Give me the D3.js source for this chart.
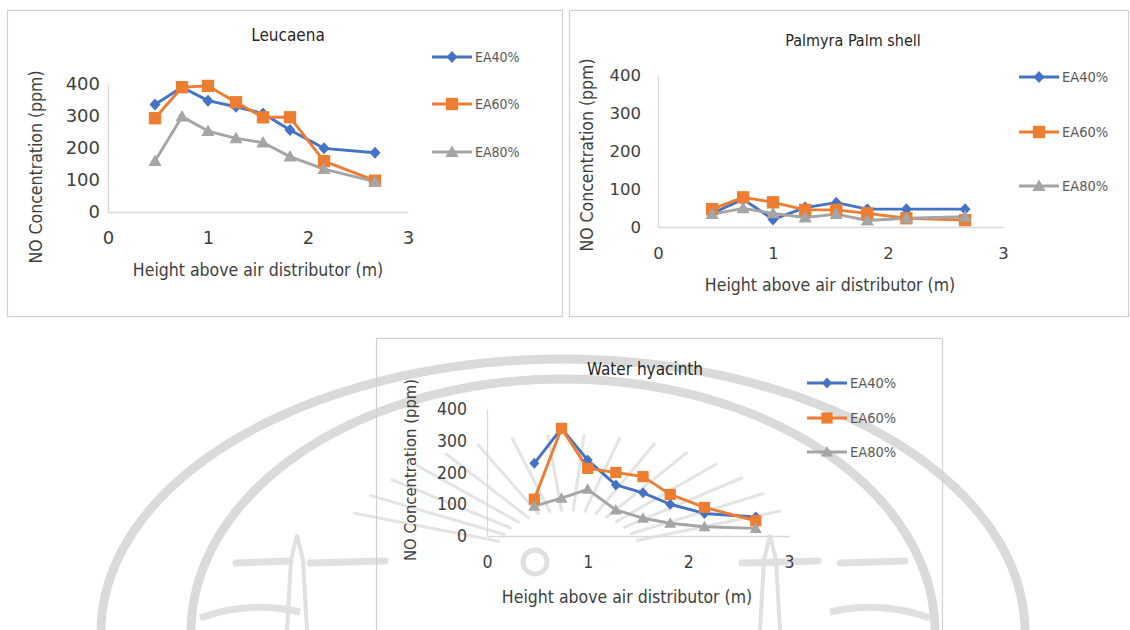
<!DOCTYPE html>
<html>
<head>
<meta charset="utf-8">
<script src="https://cdn.jsdelivr.net/npm/d3@7"></script>
<style>
  html, body { margin: 0; padding: 0; background: #fff; }
  svg { display: block; }
  text { font-family: "DejaVu Sans Condensed", "DejaVu Sans", sans-serif; font-stretch: condensed; }
</style>
</head>
<body>
<svg id="fig" width="1130" height="630"></svg>
<script>
// Heights above the air distributor (m) at which NO was sampled
const heights = [0.47, 0.74, 1.0, 1.28, 1.55, 1.82, 2.16, 2.67];
const seriesNames = ["EA40%", "EA60%", "EA80%"];
const seriesColors = ["#4472C4", "#ED7D31", "#A5A5A5"];
const xTicks = [0, 1, 2, 3];
const yTicks = [0, 100, 200, 300, 400];

// NO concentration (ppm) per excess-air level
const leucaena40 = [336, 390, 348, 329, 308, 256, 199, 185];
const leucaena60 = [293, 390, 394, 343, 296, 296, 159, 98];
const leucaena80 = [159, 298, 253, 230, 217, 173, 134, 95];

const palmyra40 = [36, 73, 20, 51, 64, 47, 47, 47];
const palmyra60 = [47, 78, 65, 45, 45, 36, 23, 18];
const palmyra80 = [34, 49, 36, 25, 34, 17, 23, 27];

const hyacinth40 = [229, 339, 239, 161, 136, 100, 71, 60];
const hyacinth60 = [116, 339, 213, 200, 187, 131, 90, 48];
const hyacinth80 = [94, 119, 147, 82, 56, 40, 29, 24];

const svg = d3.select("#fig");

// ---- faint background emblem ----
const wm = svg.append("g").attr("fill", "none").attr("stroke", "#dadada");
const cx = 563;
function halfEllipse(a, b, cy) {
  const pts = d3.range(0, 181, 2).map(t => {
    const r = t * Math.PI / 180;
    return [cx - a * Math.cos(r), cy - b * Math.sin(r)];
  });
  return d3.line()(pts);
}
wm.append("path").attr("d", halfEllipse(462, 273, 632)).attr("stroke-width", 9);
wm.append("path").attr("d", halfEllipse(372, 253, 632)).attr("stroke-width", 9);
// sunburst rays
const rc = [568, 560];
d3.range(22, 160, 9).forEach(deg => {
  const r = deg * Math.PI / 180;
  const c = Math.cos(r), s = Math.sin(r);
  wm.append("line")
    .attr("x1", rc[0] - 75 * c).attr("y1", rc[1] - 50 * s)
    .attr("x2", rc[0] - 230 * c).attr("y2", rc[1] - 125 * s)
    .attr("stroke", "#e4e4e4").attr("stroke-width", 3).attr("stroke-linecap", "round");
});
// side dashes and towers
[[236, 290], [310, 385], [742, 818], [840, 905]].forEach(([a, b]) => {
  wm.append("line").attr("x1", a).attr("x2", b).attr("y1", 563).attr("y2", 561)
    .attr("stroke", "#e0e0e0").attr("stroke-width", 7).attr("stroke-linecap", "round");
});
[297, 770].forEach(tx => {
  wm.append("path")
    .attr("d", `M${tx - 10},630 L${tx - 6},560 L${tx},535 L${tx + 6},560 L${tx + 10},630`)
    .attr("stroke", "#e0e0e0").attr("stroke-width", 4);
});
wm.append("circle").attr("cx", 535).attr("cy", 562).attr("r", 12).attr("stroke", "#e0e0e0").attr("stroke-width", 5);
wm.append("path").attr("d", "M200,618 Q250,600 300,612").attr("stroke", "#e0e0e0").attr("stroke-width", 7);
wm.append("path").attr("d", "M830,612 Q880,600 930,618").attr("stroke", "#e0e0e0").attr("stroke-width", 7);

// ---- chart panels ----
function marker(g, i, x, y, size) {
  const col = seriesColors[i];
  if (i === 0) {
    const h = size * 0.5;
    g.append("path").attr("d", `M${x},${y - h - 0.5} L${x + h},${y} L${x},${y + h + 0.5} L${x - h},${y} Z`).attr("fill", col);
  } else if (i === 1) {
    const s = size * 1.12;
    g.append("rect").attr("x", x - s / 2).attr("y", y - s / 2).attr("width", s).attr("height", s).attr("fill", col);
  } else {
    const h = size * 0.6;
    g.append("path").attr("d", `M${x},${y - h} L${x + h},${y + h * 0.75} L${x - h},${y + h * 0.75} Z`).attr("fill", col);
  }
}

function drawChart(cfg) {
  const g = svg.append("g");
  g.append("rect").attr("x", cfg.box[0] + 0.5).attr("y", cfg.box[1] + 0.5)
    .attr("width", cfg.box[2]).attr("height", cfg.box[3])
    .attr("fill", "none").attr("stroke", "#cfcfcf").attr("stroke-width", 1.2);

  const x = d3.scaleLinear().domain([0, 3]).range([cfg.plot[0], cfg.plot[1]]);
  const y = d3.scaleLinear().domain([0, 400]).range([cfg.plot[3], cfg.plot[2]]);

  // axes
  const xa = g.append("g").attr("transform", `translate(0,${cfg.plot[3]})`)
    .call(d3.axisBottom(x).tickValues(xTicks).tickFormat(d3.format("d")).tickSize(0).tickPadding(cfg.xPad));
  const ya = g.append("g").attr("transform", `translate(${cfg.plot[0]},0)`)
    .call(d3.axisLeft(y).tickValues(yTicks).tickSize(0).tickPadding(cfg.yPad));
  [xa, ya].forEach(a => {
    a.select(".domain").attr("stroke", "#d9d9d9").attr("stroke-width", 1.3);
    a.selectAll("text").attr("fill", "#404040").attr("font-size", cfg.tickSize)
      .style("font-family", cfg.tickFont).style("font-stretch", cfg.tickStretch);
  });

  // series
  const line = d3.line().x((d, i) => x(heights[i])).y(d => y(d));
  cfg.series.forEach((vals, i) => {
    g.append("path").datum(vals).attr("d", line).attr("fill", "none")
      .attr("stroke", seriesColors[i]).attr("stroke-width", 2.9).attr("stroke-linejoin", "round");
  });
  cfg.series.forEach((vals, i) => {
    vals.forEach((v, k) => marker(g, i, x(heights[k]), y(v), cfg.mk));
  });

  // titles
  g.append("text").attr("x", cfg.title[0]).attr("y", cfg.title[1]).attr("text-anchor", "middle")
    .attr("dominant-baseline", "central").attr("fill", "#262626").attr("font-size", cfg.titleSize).text(cfg.name);
  g.append("text").attr("x", cfg.xTitle[0]).attr("y", cfg.xTitle[1]).attr("text-anchor", "middle")
    .attr("dominant-baseline", "central").attr("fill", "#404040").attr("font-size", cfg.xTitleSize)
    .text("Height above air distributor (m)");
  g.append("text").attr("transform", `translate(${cfg.yTitle[0]},${cfg.yTitle[1]}) rotate(-90)`)
    .attr("text-anchor", "middle").attr("dominant-baseline", "central").attr("fill", "#404040")
    .attr("font-size", cfg.yTitleSize).text("NO Concentration (ppm)");

  // legend
  seriesNames.forEach((name, i) => {
    const ly = cfg.legend.ys[i];
    g.append("line").attr("x1", cfg.legend.x).attr("x2", cfg.legend.x + 40).attr("y1", ly).attr("y2", ly)
      .attr("stroke", seriesColors[i]).attr("stroke-width", 2.9);
    marker(g, i, cfg.legend.x + 20, ly, cfg.mk);
    g.append("text").attr("x", cfg.legend.x + 43).attr("y", ly).attr("dominant-baseline", "central")
      .attr("fill", "#595959").attr("font-size", cfg.legendSize).text(name);
  });
}

const wideFont = '"DejaVu Sans", sans-serif';
const narrowFont = '"DejaVu Sans Condensed", "DejaVu Sans", sans-serif';

drawChart({
  name: "Leucaena",
  box: [7, 10, 555, 306],
  plot: [108, 408, 84, 212],
  series: [leucaena40, leucaena60, leucaena80],
  title: [288, 35], xTitle: [258, 270], yTitle: [36, 167],
  xPad: 19, yPad: 8, tickSize: 18, tickFont: wideFont, tickStretch: "normal",
  titleSize: 17, xTitleSize: 17.5, yTitleSize: 17.5, legendSize: 14, mk: 11,
  legend: { x: 432, ys: [57, 104, 152] }
});

drawChart({
  name: "Palmyra Palm shell",
  box: [569, 10, 559, 306],
  plot: [658, 1003, 75, 227],
  series: [palmyra40, palmyra60, palmyra80],
  title: [853, 40], xTitle: [830, 285], yTitle: [587, 155],
  xPad: 20, yPad: 17, tickSize: 16.5, tickFont: wideFont, tickStretch: "normal",
  titleSize: 16, xTitleSize: 17.5, yTitleSize: 17.5, legendSize: 14.5, mk: 11,
  legend: { x: 1019, ys: [77, 132, 186] }
});

drawChart({
  name: "Water hyacinth",
  box: [376, 338, 566, 300],
  plot: [487, 789, 409, 536],
  series: [hyacinth40, hyacinth60, hyacinth80],
  title: [645, 369], xTitle: [627, 597], yTitle: [410, 470],
  xPad: 20, yPad: 20, tickSize: 17.5, tickFont: narrowFont, tickStretch: "condensed",
  titleSize: 17, xTitleSize: 17.5, yTitleSize: 16.5, legendSize: 14.5, mk: 10,
  legend: { x: 807, ys: [383, 418, 452] }
});
</script>
</body>
</html>
